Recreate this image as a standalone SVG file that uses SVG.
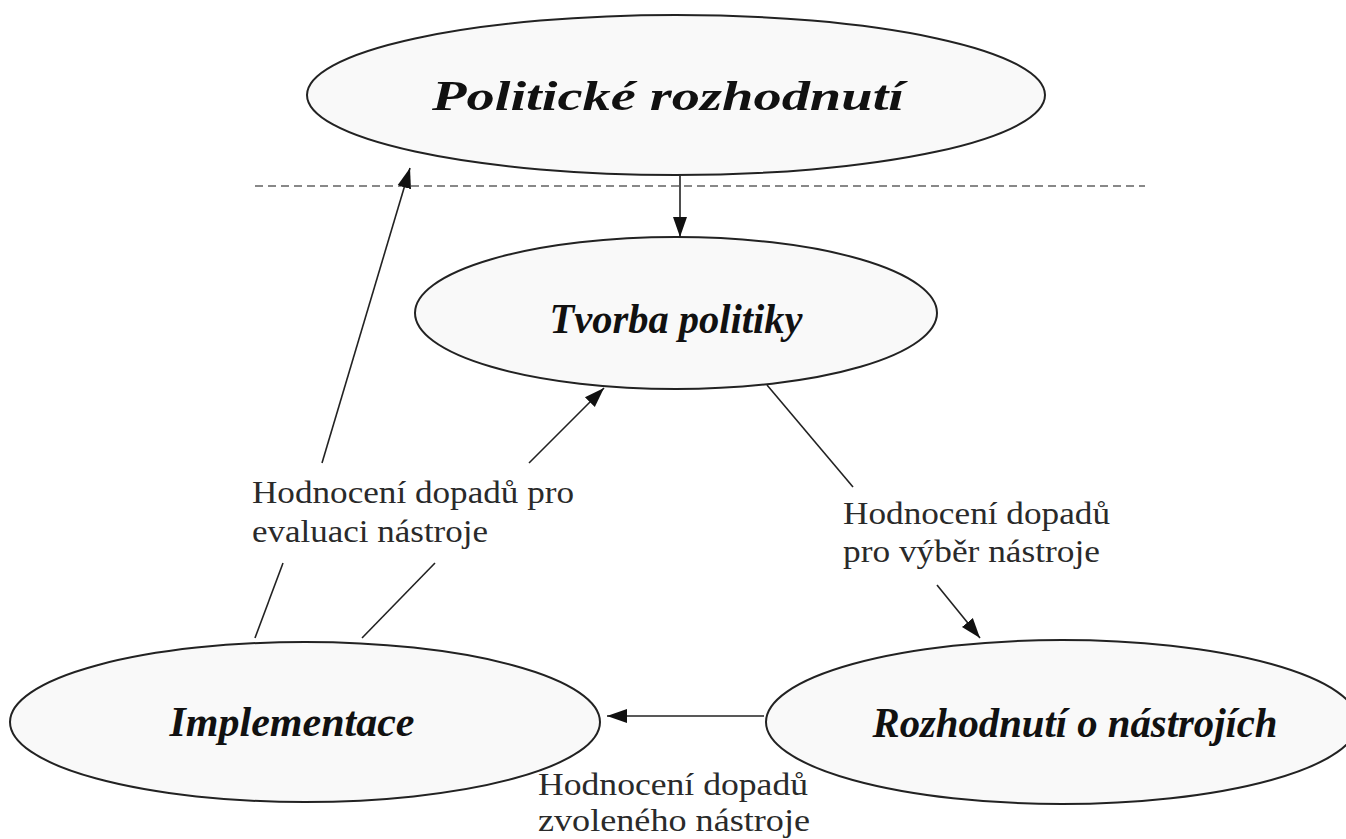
<svg xmlns="http://www.w3.org/2000/svg" width="1346" height="839" viewBox="0 0 1346 839">
<defs>
<marker id="ahb" viewBox="0 0 10 10" refX="10" refY="5" markerWidth="20" markerHeight="20" markerUnits="userSpaceOnUse" orient="auto">
<path d="M0,1.5 L10,5 L0,8.5 Z" fill="#111"/>
</marker>
</defs>
<style>
.node{fill:#f9f9f9;stroke:#222;stroke-width:2}
.nt{font-family:"Liberation Serif","Times New Roman",serif;font-weight:bold;font-style:italic;font-size:42px;fill:#111;text-anchor:middle}
.lb{font-family:"Liberation Serif","Times New Roman",serif;font-size:32px;fill:#2a2a2a}
.ln{stroke:#222;stroke-width:1.6;fill:none}
.dash{stroke:#888;stroke-width:2;stroke-dasharray:8 5;fill:none}
</style>
<rect width="1346" height="839" fill="#ffffff"/>
<line class="dash" x1="255" y1="186" x2="1145" y2="186"/>
<g id="politicke-rozhodnuti">
<ellipse class="node" cx="676" cy="95" rx="369" ry="80"/>
<text class="nt" x="668" y="110" font-size="44" textLength="472" lengthAdjust="spacingAndGlyphs">Politické rozhodnutí</text>
</g>
<g id="tvorba-politiky">
<ellipse class="node" cx="676" cy="313" rx="261" ry="76"/>
<text class="nt" x="676" y="333" textLength="253" lengthAdjust="spacingAndGlyphs">Tvorba politiky</text>
</g>
<g id="implementace">
<ellipse class="node" cx="305" cy="722" rx="295" ry="80"/>
<text class="nt" x="292" y="736" font-size="40" textLength="245" lengthAdjust="spacingAndGlyphs">Implementace</text>
</g>
<g id="rozhodnuti-o-nastrojich">
<ellipse class="node" cx="1062" cy="722" rx="296" ry="82"/>
<text class="nt" x="1075" y="737" font-size="40" textLength="405" lengthAdjust="spacingAndGlyphs">Rozhodnutí o nástrojích</text>
</g>
<g id="connectors">
<line class="ln" x1="680" y1="176" x2="680" y2="237" marker-end="url(#ahb)"/>
<line class="ln" x1="255" y1="638" x2="283" y2="563"/>
<line class="ln" x1="322" y1="463" x2="410" y2="168" marker-end="url(#ahb)"/>
<line class="ln" x1="362" y1="638" x2="435" y2="563"/>
<line class="ln" x1="529" y1="463" x2="604" y2="388" marker-end="url(#ahb)"/>
<line class="ln" x1="767" y1="385" x2="853" y2="487"/>
<line class="ln" x1="937" y1="585" x2="980" y2="638" marker-end="url(#ahb)"/>
<line class="ln" x1="764" y1="716" x2="607" y2="716" stroke="#555" marker-end="url(#ahb)"/>
</g>
<g id="labels">
<text class="lb" x="252" y="503" textLength="322" lengthAdjust="spacingAndGlyphs">Hodnocení dopadů pro</text>
<text class="lb" x="252" y="542" textLength="236" lengthAdjust="spacingAndGlyphs">evaluaci nástroje</text>
<text class="lb" x="843" y="524" textLength="267" lengthAdjust="spacingAndGlyphs">Hodnocení dopadů</text>
<text class="lb" x="843" y="562" textLength="257" lengthAdjust="spacingAndGlyphs">pro výběr nástroje</text>
<text class="lb" x="538" y="795" font-size="30" textLength="270" lengthAdjust="spacingAndGlyphs">Hodnocení dopadů</text>
<text class="lb" x="538" y="831" font-size="30" textLength="272" lengthAdjust="spacingAndGlyphs">zvoleného nástroje</text>
</g>
</svg>
